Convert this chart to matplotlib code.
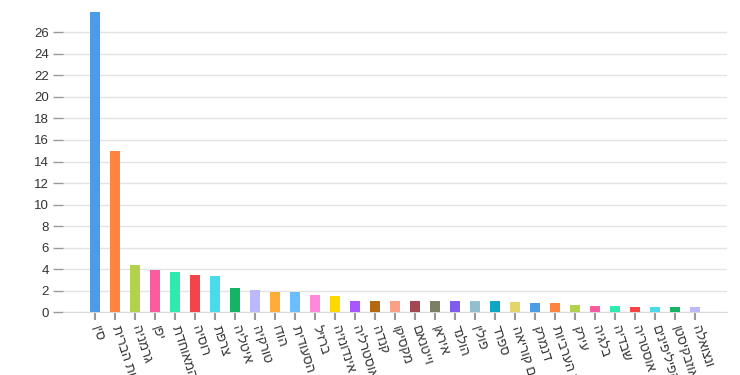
import numpy as np
import matplotlib.pyplot as plt

# שמות המדינות (סדר לוגי, יהפכו לתצוגה)
countries = ['סין', 'ארצות הברית', 'גרמניה', 'יפן', 'הממלכה המאוחדת', 'רוסיה', 'צרפת',
             'איטליה', 'טורקיה', 'הודו', 'ערב הסעודית', 'ברזיל', 'אינדונזיה', 'אוסטרליה',
             'קנדה', 'מקסיקו', 'וייטנאם', 'איראן', 'הולנד', 'פולין', 'ספרד', 'דרום קוריאה',
             'דנמרק', 'איחוד האמירויות הערביות', 'עירק', 'בלגיה', 'שבדיה', 'אוסטריה',
             'הפיליפינים', 'אוזבקיסטן', 'ונצואלה']
values = [27.9, 15.0, 4.4, 3.9, 3.7, 3.45, 3.35, 2.3, 2.1, 1.85, 1.85, 1.6, 1.5, 1.05,
          1.05, 1.05, 1.05, 1.05, 1.05, 1.05, 1.05, 0.95, 0.87, 0.84, 0.71, 0.62, 0.59,
          0.5, 0.5, 0.5, 0.5]
yticks = list(range(0, 27, 2))

palette = ['#4b9be6', '#ff843f', '#b1d24a', '#fb5c9d', '#2eeaae', '#f44448', '#4adbeb',
           '#15b465', '#bcb8fc', '#ffad36', '#6cbdff', '#ff88dc', '#ffd800', '#a757fe',
           '#b5690f', '#f9a086', '#a14853', '#7b7f64', '#7f5ceb', '#91bfcd', '#0fa5c5',
           '#e2d66a']
colors = [palette[i % len(palette)] for i in range(len(values))]

plt.rcParams['font.family'] = ['Liberation Sans', 'DejaVu Sans']

fig = plt.figure(figsize=(7.4, 3.75), dpi=100)
ax = fig.add_axes([63 / 740, (375 - 312.3) / 375, (727 - 63) / 740, (312.3 - 10.7) / 375])

x = np.arange(len(values))
ax.bar(x, values, width=0.5, color=colors, zorder=3)

ax.set_xlim(-1.6, len(values) - 1 + 1.6)
ax.set_ylim(0, 28)
ax.set_yticks(yticks)
ax.grid(axis='y', color='#e3e3e3', linewidth=1, zorder=0)

for s in ['top', 'right', 'left']:
    ax.spines[s].set_visible(False)
ax.spines['bottom'].set_color('#d9d9d9')

ax.tick_params(axis='y', length=7, width=1, color='#999999', labelcolor='#333333',
               labelsize=9.5, pad=3)
ax.tick_params(axis='x', length=6, width=1.5, color='#999999', labelcolor='#333333',
               labelsize=9.5, pad=4)

# matplotlib אינו מטפל בכיווניות, לכן הופכים את המחרוזות
ax.set_xticks(x)
ax.set_xticklabels([c[::-1] for c in countries], rotation=-72, ha='left', va='center',
                   rotation_mode='anchor')

fig.savefig('out.png', dpi=100)
